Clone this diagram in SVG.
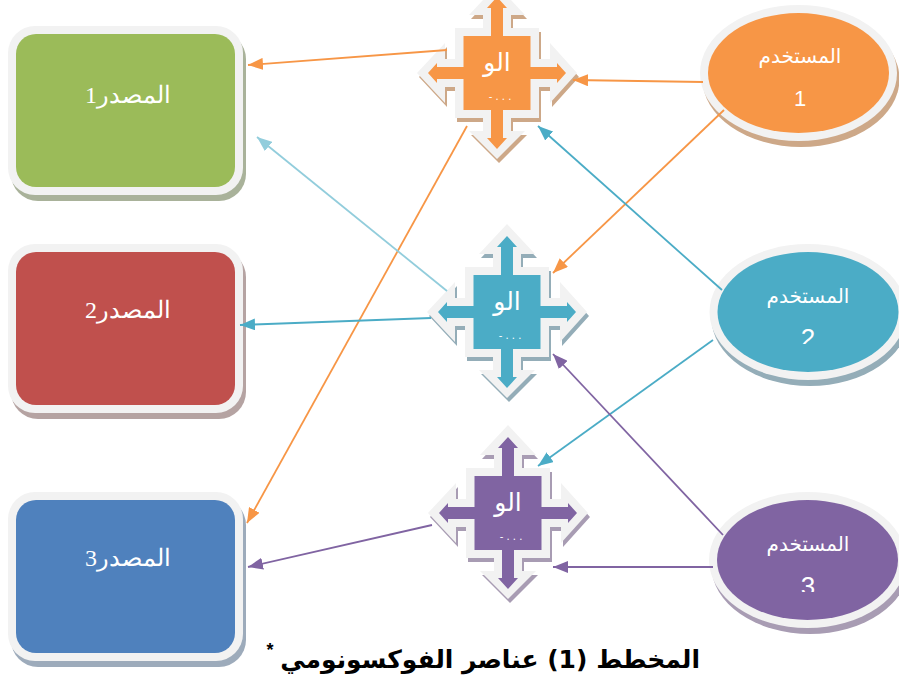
<svg xmlns="http://www.w3.org/2000/svg" xmlns:xlink="http://www.w3.org/1999/xlink" width="899" height="677" viewBox="0 0 899 677">
<style>
.rim{fill:#f2f2f2}
.src{font-family:"Liberation Serif","DejaVu Serif",serif;font-size:24px;fill:#fff;text-anchor:middle;direction:rtl}
.usr{font-family:"DejaVu Sans","Liberation Sans",sans-serif;font-size:20px;fill:#fff;text-anchor:middle;direction:rtl}
.hub{font-family:"DejaVu Sans","Liberation Sans",sans-serif;font-size:25px;fill:#fff;text-anchor:middle;direction:rtl}
.dots{font-family:"DejaVu Sans","Liberation Sans",sans-serif;font-size:10px;fill:#fff;text-anchor:middle;direction:rtl}
.num{font-family:"Liberation Sans",sans-serif;font-size:22px;fill:#fff;text-anchor:middle}
.cut{font-size:26px}
.line{fill:none;stroke-width:1.8}
</style>
<defs>
<polygon id="crossRim" points="0,-88 28,-58 14,-58 14,-45 42,-45 42,-14 53,-14 53,-30 80,0 53,30 53,14 42,14 42,45 14,45 14,58 28,58 0,86 -28,58 -14,58 -14,45 -42,45 -42,14 -52,14 -52,30 -80,0 -52,-30 -52,-14 -42,-14 -42,-45 -14,-45 -14,-58 -28,-58"/>
<polygon id="crossCore" points="0,-76 10,-65 6,-65 6,-37 33.5,-37 33.5,-6 60,-6 60,-10 69,0 60,10 60,6 33.5,6 33.5,37 6,37 6,65 10,65 0,76 -10,65 -6,65 -6,37 -33.5,37 -33.5,6 -60,6 -60,10 -69,0 -60,-10 -60,-6 -33.5,-6 -33.5,-37 -6,-37 -6,-65 -10,-65"/>
<clipPath id="n2"><rect x="780" y="320" width="60" height="24"/></clipPath>
<clipPath id="n3"><rect x="780" y="568" width="60" height="24"/></clipPath>
<marker id="aO" markerUnits="userSpaceOnUse" markerWidth="16" markerHeight="12" refX="15" refY="6" orient="auto"><path d="M0,0L15,6L0,12z" fill="#f79646"/></marker>
<marker id="aA" markerUnits="userSpaceOnUse" markerWidth="16" markerHeight="12" refX="15" refY="6" orient="auto"><path d="M0,0L15,6L0,12z" fill="#4bacc6"/></marker>
<marker id="aL" markerUnits="userSpaceOnUse" markerWidth="16" markerHeight="12" refX="15" refY="6" orient="auto"><path d="M0,0L15,6L0,12z" fill="#92cddc"/></marker>
<marker id="aP" markerUnits="userSpaceOnUse" markerWidth="16" markerHeight="12" refX="15" refY="6" orient="auto"><path d="M0,0L15,6L0,12z" fill="#8064a2"/></marker>
</defs>
<g id="source1"><rect x="11" y="32" width="235" height="169" rx="27" fill="#a9b29a"/><rect class="rim" x="8" y="26" width="235" height="169" rx="27"/><rect x="16" y="34" width="219" height="153" rx="20" fill="#9bbb59"/><text class="src" x="128" y="103">المصدر1</text></g>
<g id="source2"><rect x="11" y="250" width="235" height="169" rx="27" fill="#b5a3a2"/><rect class="rim" x="8" y="244" width="235" height="169" rx="27"/><rect x="16" y="252" width="219" height="153" rx="20" fill="#c0504d"/><text class="src" x="128" y="318">المصدر2</text></g>
<g id="source3"><rect x="11" y="498" width="235" height="169" rx="27" fill="#9dabbb"/><rect class="rim" x="8" y="492" width="235" height="169" rx="27"/><rect x="16" y="500" width="219" height="153" rx="20" fill="#4f81bd"/><text class="src" x="128" y="566">المصدر3</text></g>
<g id="hub1" transform="translate(497,73)"><use xlink:href="#crossRim" x="2" y="4" fill="#cda888"/><use xlink:href="#crossRim" class="rim"/><use xlink:href="#crossCore" fill="#f79646"/><text class="hub" x="0" y="-2">الو</text><text class="dots" x="3" y="27">. . . -</text></g>
<g id="hub2" transform="translate(507,312)"><use xlink:href="#crossRim" x="2" y="4" fill="#94adb8"/><use xlink:href="#crossRim" class="rim"/><use xlink:href="#crossCore" fill="#4bacc6"/><text class="hub" x="0" y="-2">الو</text><text class="dots" x="3" y="27">. . . -</text></g>
<g id="hub3" transform="translate(508,513)"><use xlink:href="#crossRim" x="2" y="4" fill="#a89cb3"/><use xlink:href="#crossRim" class="rim"/><use xlink:href="#crossCore" fill="#8064a2"/><text class="hub" x="0" y="-2">الو</text><text class="dots" x="3" y="27">. . . -</text></g>
<g id="user1"><ellipse cx="801" cy="79" rx="98.500" ry="68" fill="#cda888"/><ellipse class="rim" cx="798.500" cy="73" rx="98.500" ry="68"/><ellipse cx="798.500" cy="73" rx="90.500" ry="60" fill="#f79646"/><text class="usr" x="800" y="63">المستخدم</text><text class="num" x="800" y="106">1</text></g>
<g id="user2"><ellipse cx="810" cy="318" rx="98.500" ry="68" fill="#94adb8"/><ellipse class="rim" cx="808" cy="312" rx="98.500" ry="68"/><ellipse cx="808" cy="312" rx="90.500" ry="60" fill="#4bacc6"/><text class="usr" x="808" y="303">المستخدم</text><text class="num cut" x="808" y="347" clip-path="url(#n2)">2</text></g>
<g id="user3"><ellipse cx="810" cy="566" rx="98.500" ry="68" fill="#a89cb3"/><ellipse class="rim" cx="807.500" cy="560" rx="98.500" ry="68"/><ellipse cx="807.500" cy="560" rx="90.500" ry="60" fill="#8064a2"/><text class="usr" x="808" y="551">المستخدم</text><text class="num cut" x="808" y="595" clip-path="url(#n3)">3</text></g>
<g id="connectors">
<g stroke="#f79646"><line class="line" x1="447" y1="50" x2="248" y2="65" marker-end="url(#aO)"/><line class="line" x1="703" y1="82" x2="573" y2="80" marker-end="url(#aO)"/><line class="line" x1="724" y1="110" x2="553" y2="273" marker-end="url(#aO)"/><line class="line" x1="467" y1="126" x2="247" y2="523" marker-end="url(#aO)"/></g>
<g stroke="#4bacc6"><line class="line" x1="722" y1="290" x2="538" y2="126" marker-end="url(#aA)"/><line class="line" x1="713" y1="340" x2="538" y2="466" marker-end="url(#aA)"/><line class="line" x1="431" y1="318" x2="240" y2="325" marker-end="url(#aA)"/></g>
<line stroke="#92cddc" class="line" x1="447" y1="291" x2="257" y2="137" marker-end="url(#aL)"/>
<g stroke="#8064a2"><line class="line" x1="723" y1="535" x2="553" y2="354" marker-end="url(#aP)"/><line class="line" x1="432" y1="525" x2="248" y2="567" marker-end="url(#aP)"/><line class="line" x1="713" y1="567" x2="553" y2="567" marker-end="url(#aP)"/></g>
</g>
<text id="title" x="700" y="668" style="font-family:'DejaVu Sans','Liberation Sans',sans-serif;font-size:25px;font-weight:bold;direction:rtl;text-anchor:start" fill="#000">المخطط (1) عناصر الفوكسونومي</text>
<text id="star" x="270" y="656" style="font-family:'Liberation Sans',sans-serif;font-size:18px;font-weight:bold;text-anchor:middle" fill="#000">*</text>
</svg>
